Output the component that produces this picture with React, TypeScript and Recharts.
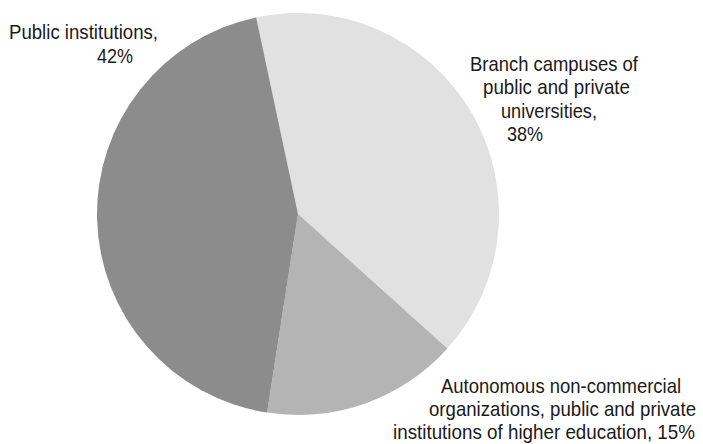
import React from "react";
import { PieChart, Pie, Cell } from "recharts";

// slice order follows the picture clockwise from the top
const categories = [
  "Branch campuses of public and private universities",
  "Autonomous non-commercial organizations, public and private institutions of higher education",
  "Public institutions",
];
const values = [38, 15, 42];
const labelLines = [
  ["Branch campuses of", "public and private", "universities,", "38%"],
  ["Autonomous non-commercial", "organizations, public and private", "institutions of higher education, 15%"],
  ["Public institutions,", "42%"],
];

const COLORS = ["#e1e1e1", "#b4b4b4", "#8c8c8c"];

// per line: [dx from centre, dy from centre, width] — the source font is condensed
const LABEL_LAYOUT: [number, number, number][][] = [
  [[172, -143, 168], [185, -120, 147], [203, -96, 96], [209, -73, 36]],
  [[143, 179, 240], [131, 202, 267], [95, 225, 302]],
  [[-289, -175, 149], [-201, -151, 36]],
];

const CX = 298;
const CY = 214;

const data = categories.map((name, i) => ({ name, value: values[i] }));

function renderLabel(props: any) {
  const { index } = props;
  const cx = typeof props.cx === "number" ? props.cx : CX;
  const cy = typeof props.cy === "number" ? props.cy : CY;
  const lines = labelLines[index];
  const layout = LABEL_LAYOUT[index];
  return (
    <g key={`lbl-${index}`}>
      {lines.map((line, j) => (
        <text
          key={j}
          x={cx + layout[j][0]}
          y={cy + layout[j][1]}
          textAnchor="start"
          fill="#1a1a1a"
          fontSize={21}
          fontFamily='"Liberation Sans", Arial, sans-serif'
          textLength={layout[j][2]}
          lengthAdjust="spacingAndGlyphs"
        >
          {line}
        </text>
      ))}
    </g>
  );
}

export default function App() {
  return (
    <div style={{ position: "absolute", left: 0, top: 0, width: 703, height: 444, background: "#fff" }}>
      <PieChart width={703} height={444} margin={{ top: 0, right: 0, bottom: 0, left: 0 }}>
        <Pie
          data={data}
          dataKey="value"
          nameKey="name"
          cx={CX}
          cy={CY}
          outerRadius={201}
          startAngle={102}
          endAngle={-258}
          stroke="none"
          label={renderLabel}
          labelLine={false}
          isAnimationActive={false}
        >
          {data.map((d, i) => (
            <Cell key={d.name} fill={COLORS[i]} />
          ))}
        </Pie>
      </PieChart>
    </div>
  );
}
